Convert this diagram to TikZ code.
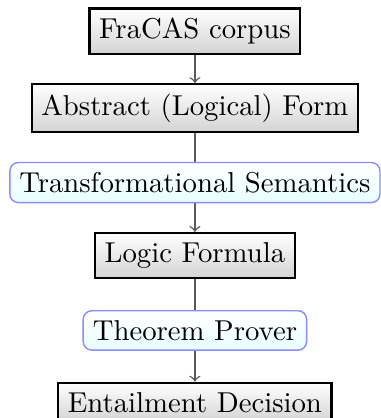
\documentclass[tikz,border=0pt]{standalone}
\usetikzlibrary{shapes.misc}
\begin{document}
\begin{tikzpicture}[x=1pt,y=1pt,
  box/.style={draw=black, thick, top color=white, bottom color=black!17, inner sep=3.33pt},
  proc/.style={draw=blue!45, rounded corners=3pt, top color=white, bottom color=cyan!9, inner sep=3.33pt},
  conn/.style={->, draw=black!65, line width=0.5pt}]
\useasboundingbox (0,0) rectangle (132.2,145.4);
\node[box] (fc) at (67.8,134.6) {FraCAS corpus};
\node[box] (af) at (67.8,107.8) {Abstract (Logical) Form};
\node[box] (lf) at (67.8,56.5) {Logic Formula};
\node[box] (ed) at (67.8,5.4) {Entailment Decision};
\draw[conn] (fc) -- (af);
\draw[conn] (af) -- node[proc] (ts) {Transformational Semantics} (lf);
\draw[conn] (lf) -- node[proc] (tp) {Theorem Prover} (ed);
\end{tikzpicture}
\end{document}
